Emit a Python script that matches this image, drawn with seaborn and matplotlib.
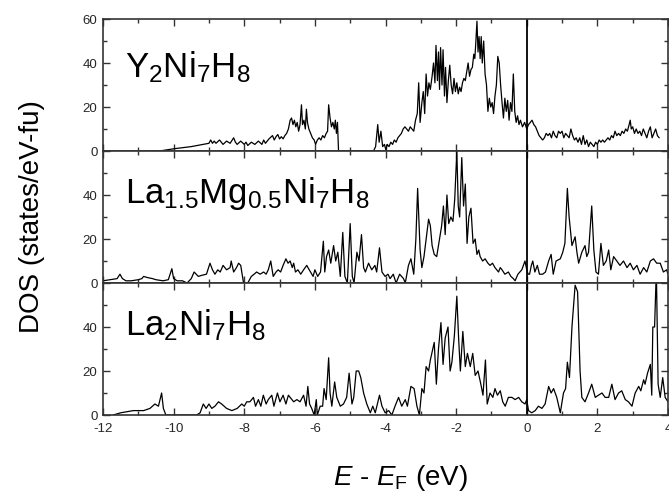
import matplotlib
matplotlib.use("Agg")
import matplotlib.pyplot as plt
import seaborn as sns
import pandas as pd
from matplotlib.ticker import MultipleLocator

# ---------------- data (energy E - E_F in eV, DOS in states/eV-fu) ----------------
Y2_POINTS = [(-10.4,0),(-10.0,1),(-9.5,2),(-9.0,3.5),(-8.95,5),(-8.9,3.5),(-8.85,4.5),(-8.8,3.5),(-8.7,5),(-8.6,3),
 (-8.5,4.5),(-8.4,3.5),(-8.3,6),(-8.25,4),(-8.2,3),(-8.1,4.5),(-8.0,3),(-7.95,4),(-7.9,2.5),(-7.8,4),(-7.7,3),(-7.6,4.5),
 (-7.5,3),(-7.45,5),(-7.4,3.5),(-7.3,5.5),(-7.2,7),(-7.15,5),(-7.1,6.5),(-7.05,7.5),(-7.0,5.5),(-6.95,6.5),(-6.9,5.5),
 (-6.85,7),(-6.8,8),(-6.75,10),(-6.7,14),(-6.66,15),(-6.62,12),(-6.58,14),(-6.54,11),(-6.5,13),(-6.46,9),(-6.42,12),
 (-6.38,21),(-6.35,12),(-6.31,14),(-6.27,10),(-6.24,19),(-6.21,13),(-6.17,10),(-6.12,8),(-6.07,6),(-6.02,5),(-5.98,3),
 (-5.93,5),(-5.88,6),(-5.83,5),(-5.78,7),(-5.73,6),(-5.68,8),(-5.64,9),(-5.61,21),(-5.57,15),(-5.53,11),(-5.49,13),
 (-5.45,10),(-5.42,14),(-5.39,8),(-5.36,13),(-5.33,0),(-4.34,0),(-4.28,2),(-4.22,12),(-4.18,4),(-4.13,9),(-4.08,2),
 (-4.03,3),(-3.99,0.5),(-3.95,3),(-3.9,2),(-3.85,4),(-3.8,3),(-3.75,5),(-3.7,4),(-3.65,6),(-3.6,7),(-3.55,8),(-3.5,10),
 (-3.45,11),(-3.4,10),(-3.35,9),(-3.3,11),(-3.25,10),(-3.2,9),(-3.15,14),(-3.1,17),(-3.06,31),(-3.02,13),(-2.97,22),
 (-2.93,27),(-2.89,17),(-2.85,35),(-2.81,25),(-2.77,31),(-2.73,28),(-2.68,34),(-2.64,40),(-2.6,31),(-2.57,48),(-2.53,32),
 (-2.5,45),(-2.47,28),(-2.44,47),(-2.4,30),(-2.37,46),(-2.33,25),(-2.3,38),(-2.26,22),(-2.22,32),(-2.18,39),(-2.14,30),
 (-2.1,26),(-2.06,33),(-2.02,27),(-1.98,31),(-1.94,26),(-1.9,29),(-1.86,27),(-1.82,31),(-1.78,33),(-1.74,32),(-1.7,36),
 (-1.66,40),(-1.62,34),(-1.58,37),(-1.54,38),(-1.5,44),(-1.47,42),(-1.44,50),(-1.41,59),(-1.38,45),(-1.35,52),(-1.32,42),
 (-1.29,52),(-1.26,40),(-1.22,50),(-1.18,35),(-1.14,30),(-1.1,18),(-1.06,24),(-1.02,20),(-0.98,22),(-0.94,17),(-0.9,25),
 (-0.86,30),(-0.82,43),(-0.78,40),(-0.74,30),(-0.7,22),(-0.66,15),(-0.62,24),(-0.58,18),(-0.54,23),(-0.5,14),(-0.46,22),
 (-0.42,18),(-0.38,35),(-0.34,18),(-0.3,13),(-0.26,16),(-0.22,12),(-0.18,14),(-0.12,11),(-0.06,13),(0.0,10),(0.05,12),
 (0.1,13),(0.15,14),(0.2,12),(0.25,11),(0.3,9),(0.35,7),(0.4,6),(0.45,5),(0.5,6),(0.55,8),(0.6,7),(0.65,8),(0.7,6),
 (0.75,9),(0.8,7),(0.85,6),(0.9,9),(0.95,8),(1.0,9),(1.05,6),(1.1,8),(1.15,7),(1.2,6),(1.25,10),(1.3,7),(1.35,5),(1.4,6),
 (1.45,4),(1.5,6),(1.55,3),(1.6,7),(1.65,3),(1.7,5),(1.75,2),(1.8,4),(1.85,3),(1.9,2),(1.95,4),(2.0,3),(2.05,5),(2.1,4),
 (2.15,5),(2.2,4),(2.25,5),(2.3,6),(2.35,5),(2.4,7),(2.45,6),(2.5,9),(2.55,7),(2.6,8),(2.65,7),(2.7,9),(2.75,8),(2.8,10),
 (2.85,9),(2.9,12),(2.93,14),(2.96,10),(3.0,11),(3.05,8),(3.1,10),(3.15,8),(3.2,9),(3.25,7),(3.3,10),(3.35,8),(3.4,6),
 (3.45,9),(3.5,11),(3.55,6),(3.6,8),(3.65,10),(3.7,7),(3.75,6)]

LAMG_POINTS = [(-12.0,1),(-11.8,1.5),(-11.6,2),(-11.52,4),(-11.45,2),(-11.35,1),(-11.2,1),(-11.0,1.5),(-10.9,2),
 (-10.85,3),(-10.75,2.5),(-10.6,2),(-10.5,1.5),(-10.3,1),(-10.15,1.5),(-10.05,6.5),(-10.0,2),(-9.9,1),(-9.75,1),(-9.62,0),
 (-9.5,2),(-9.42,5),(-9.3,3),(-9.2,3.5),(-9.07,4),(-8.97,9),(-8.9,6),(-8.83,4),(-8.75,6),(-8.68,5),(-8.6,8),(-8.5,6),
 (-8.4,7),(-8.37,10),(-8.3,5),(-8.22,7),(-8.16,9),(-8.1,8),(-8.02,0),(-7.9,0),(-7.8,3),(-7.72,4),(-7.65,5),(-7.55,4),
 (-7.45,5),(-7.38,4),(-7.32,6),(-7.25,10),(-7.18,3),(-7.1,5),(-7.04,6),(-6.97,5),(-6.9,8),(-6.82,11),(-6.76,9),(-6.7,10),
 (-6.64,7),(-6.6,9),(-6.55,5),(-6.48,6),(-6.4,4),(-6.32,6),(-6.23,8),(-6.16,6),(-6.05,3),(-6.0,6),(-5.92,3),(-5.84,5),
 (-5.76,19),(-5.72,5),(-5.67,12),(-5.61,15),(-5.55,9),(-5.47,17),(-5.41,10),(-5.35,14),(-5.28,3),(-5.21,23),(-5.15,3),
 (-5.08,0),(-5.0,27),(-4.94,3),(-4.89,0),(-4.81,14),(-4.75,10),(-4.68,22),(-4.62,7),(-4.57,5),(-4.48,9),(-4.39,6),
 (-4.3,8),(-4.25,5),(-4.17,16),(-4.1,5),(-4.01,3),(-3.93,4),(-3.87,2),(-3.78,4),(-3.7,0),(-3.6,4),(-3.49,2),(-3.44,0),
 (-3.35,8),(-3.28,11),(-3.2,4),(-3.14,20),(-3.09,43),(-3.02,15),(-2.97,7),(-2.91,12),(-2.85,20),(-2.78,29),(-2.73,26),
 (-2.68,17),(-2.62,13),(-2.55,12),(-2.47,20),(-2.41,26),(-2.36,35),(-2.31,22),(-2.26,40),(-2.21,27),(-2.15,30),
 (-2.09,28),(-2.04,38),(-1.98,60),(-1.94,35),(-1.9,30),(-1.84,57),(-1.79,35),(-1.74,45),(-1.69,18),(-1.64,30),
 (-1.58,34),(-1.52,18),(-1.46,20),(-1.41,13),(-1.36,15),(-1.32,12),(-1.25,10),(-1.18,11),(-1.1,9),(-1.04,8),(-0.97,9),
 (-0.9,7),(-0.8,5),(-0.75,7),(-0.7,6),(-0.62,4),(-0.52,5),(-0.45,3),(-0.38,2),(-0.33,1),(-0.25,4),(-0.14,6),(-0.05,10),
 (0.0,6),(0.04,4),(0.08,4),(0.13,8),(0.17,10),(0.23,5),(0.3,8),(0.36,4),(0.45,4),(0.53,5),(0.62,10),(0.69,13),(0.75,4),
 (0.83,10),(0.95,11),(1.02,14),(1.08,18),(1.15,43),(1.2,30),(1.28,17),(1.37,21),(1.42,14),(1.47,9),(1.56,14),(1.65,17),
 (1.7,12),(1.75,14),(1.84,35),(1.9,15),(1.96,5),(2.03,4),(2.1,18),(2.17,8),(2.25,10),(2.32,15),(2.38,6),(2.46,12),
 (2.55,10),(2.64,8),(2.74,10),(2.84,7),(2.93,9),(3.02,6),(3.12,8),(3.21,4),(3.31,7),(3.4,5),(3.5,10),(3.59,11),(3.68,9),
 (3.78,9),(3.87,5),(3.96,6),(4.0,4)]

LA2_POINTS = [(-11.71,0),(-11.5,1),(-11.14,2),(-10.85,2),(-10.67,3),(-10.53,5),(-10.43,4),(-10.34,10),(-10.29,3),
 (-10.22,0),(-9.35,0),(-9.25,1),(-9.16,5),(-9.08,3),(-9.0,5),(-8.92,3),(-8.83,4),(-8.73,6),(-8.64,5),(-8.5,3),(-8.35,2),
 (-8.2,3),(-8.07,5),(-8.0,4),(-7.93,6),(-7.84,6),(-7.74,8),(-7.68,4),(-7.6,7),(-7.53,4),(-7.46,9),(-7.38,5),(-7.32,7),
 (-7.22,9),(-7.16,4),(-7.06,10),(-6.99,6),(-6.9,9),(-6.82,5),(-6.75,9),(-6.65,7),(-6.6,6),(-6.51,7),(-6.42,6),(-6.32,9),
 (-6.25,4),(-6.2,13),(-6.15,5),(-6.09,3),(-6.02,0),(-5.96,7),(-5.93,0),(-5.85,4),(-5.78,4),(-5.74,12),(-5.68,7),
 (-5.61,26),(-5.57,10),(-5.52,4),(-5.44,15),(-5.38,8),(-5.28,4),(-5.19,5),(-5.1,8),(-5.03,19),(-4.95,5),(-4.9,8),
 (-4.83,20),(-4.76,20),(-4.7,17),(-4.62,10),(-4.53,5),(-4.43,1),(-4.36,4),(-4.29,1),(-4.17,9),(-4.1,4),(-4.01,1),
 (-3.91,2),(-3.82,0),(-3.73,4),(-3.63,8),(-3.54,4),(-3.44,7),(-3.38,4),(-3.28,13),(-3.19,12),(-3.11,4),(-3.04,0),
 (-2.97,12),(-2.91,10),(-2.85,22),(-2.78,20),(-2.73,25),(-2.66,30),(-2.62,33),(-2.56,14),(-2.5,30),(-2.43,42),(-2.37,23),
 (-2.31,35),(-2.23,40),(-2.17,20),(-2.12,24),(-2.05,36),(-1.98,54),(-1.93,35),(-1.88,20),(-1.81,38),(-1.74,22),
 (-1.68,28),(-1.6,22),(-1.53,28),(-1.46,18),(-1.38,20),(-1.3,14),(-1.24,9),(-1.17,25),(-1.12,5),(-1.04,10),(-0.96,8),
 (-0.9,12),(-0.83,9),(-0.75,11),(-0.68,6),(-0.61,4),(-0.52,8),(-0.42,8),(-0.33,7),(-0.23,8),(-0.14,6),(-0.05,5),(0.0,7),
 (0.05,2),(0.14,1),(0.24,2),(0.33,4),(0.43,3),(0.52,5),(0.62,13),(0.69,10),(0.76,12),(0.85,8),(0.95,1),(1.04,10),
 (1.1,12),(1.15,24),(1.21,17),(1.28,40),(1.37,59),(1.44,56),(1.51,20),(1.56,8),(1.65,6),(1.75,10),(1.84,14),(1.94,8),
 (2.03,9),(2.13,10),(2.22,8),(2.32,8),(2.41,14),(2.5,7),(2.6,10),(2.69,11),(2.79,7),(2.88,6),(2.98,4),(3.07,10),
 (3.17,13),(3.23,11),(3.31,16),(3.35,14),(3.42,19),(3.5,23),(3.54,9),(3.57,40),(3.62,40),(3.67,66),(3.72,14),(3.78,8),
 (3.85,17),(3.92,8),(4.0,6)]

PANEL_LABELS = [r"$\mathregular{Y_2Ni_7H_8}$",
                r"$\mathregular{La_{1.5}Mg_{0.5}Ni_7H_8}$",
                r"$\mathregular{La_2Ni_7H_8}$"]
PANEL_DATA = [Y2_POINTS, LAMG_POINTS, LA2_POINTS]
X_TICKS = [-12, -10, -8, -6, -4, -2, 0, 2, 4]
Y_TICKS = [0, 20, 40, 60]

# ---------------- style ----------------
sns.set_theme(style="ticks")
plt.rcParams["font.family"] = ["Liberation Sans", "DejaVu Sans"]
plt.rcParams["mathtext.fontset"] = "custom"
plt.rcParams["mathtext.rm"] = "Liberation Sans"
plt.rcParams["mathtext.it"] = "Liberation Sans:italic"
plt.rcParams["mathtext.bf"] = "Liberation Sans:bold"
plt.rcParams["axes.unicode_minus"] = False

W, H = 669, 493
fig = plt.figure(figsize=(W / 100, H / 100), dpi=100)
left_px, right_px, top_px, panel_h = 103, 668, 19, 132

axes = []
for i, (pts, lab) in enumerate(zip(PANEL_DATA, PANEL_LABELS)):
    y0 = 1 - (top_px + (i + 1) * panel_h) / H
    ax = fig.add_axes([left_px / W, y0, (right_px - left_px) / W, panel_h / H])
    df = pd.DataFrame(pts, columns=["E", "DOS"])
    sns.lineplot(data=df, x="E", y="DOS", ax=ax, color="black", lw=0.9,
                 estimator=None, sort=False)
    ax.axvline(0, color="black", lw=1.3)
    ax.set_xlim(-12, 4)
    ax.set_ylim(0, 60)
    ax.set_xticks(X_TICKS)
    ax.xaxis.set_minor_locator(MultipleLocator(1))
    ax.set_yticks(Y_TICKS)
    ax.yaxis.set_minor_locator(MultipleLocator(10))
    ax.tick_params(which="both", direction="in", top=True, right=True,
                   width=1.0, color="#333333", labelsize=9.5)
    ax.tick_params(axis="y", pad=4)
    ax.tick_params(axis="x", pad=6)
    ax.tick_params(which="major", length=5)
    ax.tick_params(which="minor", length=3)
    if i > 0:
        ax.set_yticklabels(["0", "20", "40", ""])
    if i < 2:
        ax.tick_params(labelbottom=False)
    ax.set_xlabel("")
    ax.set_ylabel("")
    for s in ax.spines.values():
        s.set_linewidth(1.2)
        s.set_color("#333333")
    ax.text(0.039, 0.556 if i == 0 else 0.606, lab, transform=ax.transAxes,
            fontsize=25, va="baseline", ha="left", color="black")
    axes.append(ax)

fig.text(0.048, 0.56, "DOS (states/eV-fu)", rotation=90, ha="center",
         va="center", fontsize=20, color="black")
fig.text(0.598, 0.03, r"$\mathit{E}$ - $\mathit{E}_{\mathregular{F}}$ (eV)",
         ha="center", va="center", fontsize=20, color="black")

fig.savefig("out.png", dpi=100)
